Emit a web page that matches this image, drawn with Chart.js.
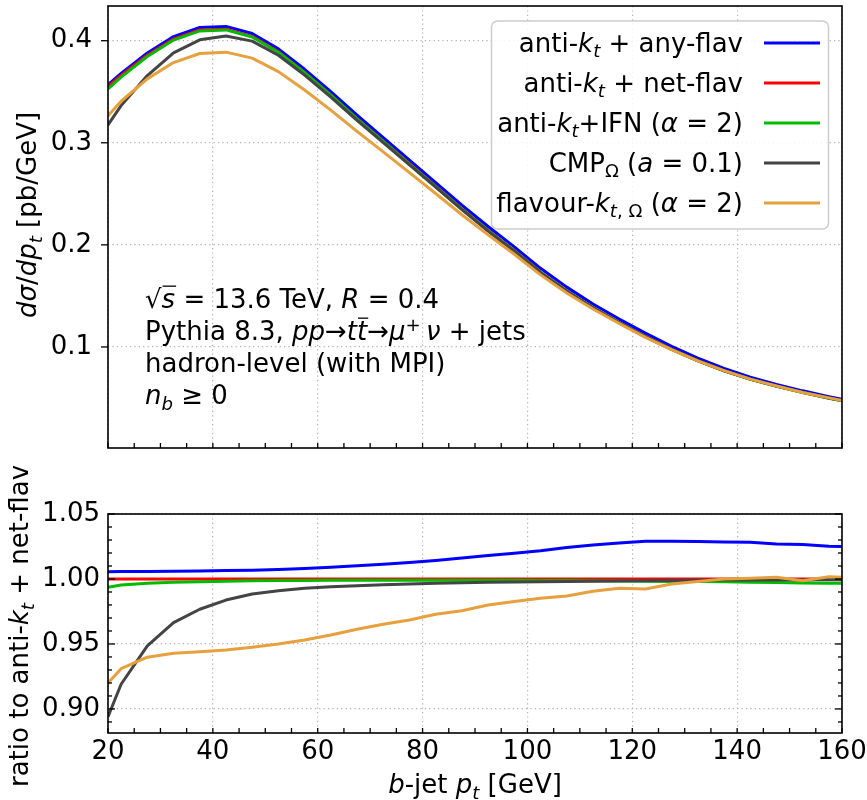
<!DOCTYPE html>
<html>
<head>
<meta charset="utf-8">
<script src="https://cdn.jsdelivr.net/npm/chart.js@4.4.1/dist/chart.umd.min.js"></script>
<style>
  html, body { margin: 0; padding: 0; background: #fff; }
  #wrap { position: relative; width: 867px; height: 800px; }
  .box { position: absolute; left: 0; width: 867px; }
  #topBox { top: 0; height: 460px; }
  #botBox { top: 460px; height: 340px; }
</style>
</head>
<body>
<div id="wrap">
  <div class="box" id="topBox"><canvas id="mainChart"></canvas></div>
  <div class="box" id="botBox"><canvas id="ratioChart"></canvas></div>
</div>
<script>
// b-jet pt bin centres (plus the two panel edges)
const ptBins = [20, 22.5, 27.5, 32.5, 37.5, 42.5, 47.5, 52.5, 57.5, 62.5,
  67.5, 72.5, 77.5, 82.5, 87.5, 92.5, 97.5, 102.5, 107.5, 112.5,
  117.5, 122.5, 127.5, 132.5, 137.5, 142.5, 147.5, 152.5, 157.5, 160];

const xTicks = [20, 40, 60, 80, 100, 120, 140, 160];
const mainYTicks = [0.1, 0.2, 0.3, 0.4];
const ratioYTicks = [0.90, 0.95, 1.00, 1.05];

const seriesNames = ['anti-kt + any-flav', 'anti-kt + net-flav', 'anti-kt+IFN (α = 2)',
  'CMPΩ (a = 0.1)', 'flavour-kt,Ω (α = 2)'];
const seriesColors = ['#0000ff', '#ff0000', '#00bb00', '#444444', '#e6a03e'];

// dsigma/dpt [pb/GeV]
const xsecAnyFlav = [0.357, 0.368, 0.388, 0.404, 0.413, 0.414, 0.407, 0.392, 0.372, 0.350,
  0.327, 0.305, 0.283, 0.261, 0.239, 0.218, 0.198, 0.177, 0.1586, 0.1421,
  0.1273, 0.1135, 0.1006, 0.0891, 0.0790, 0.0704, 0.0633, 0.0570, 0.0513, 0.0487];
const xsecNetFlav = [0.355, 0.366, 0.3858, 0.4016, 0.4105, 0.4113, 0.4042, 0.3892, 0.369, 0.3469,
  0.3237, 0.3016, 0.2795, 0.2573, 0.2352, 0.2141, 0.1942, 0.1732, 0.1548, 0.1385,
  0.1239, 0.1103, 0.0978, 0.0866, 0.0768, 0.0685, 0.0616, 0.0555, 0.0500, 0.0475];
const xsecIfn = [0.3527, 0.3643, 0.3845, 0.4006, 0.4096, 0.4106, 0.4036, 0.3887, 0.3686, 0.3466,
  0.3234, 0.3013, 0.2792, 0.2570, 0.2350, 0.2139, 0.1940, 0.1730, 0.1546, 0.1383,
  0.1237, 0.1101, 0.0976, 0.0864, 0.0766, 0.0683, 0.0614, 0.0553, 0.0498, 0.0473];
const xsecCmp = [0.3174, 0.3364, 0.3659, 0.3881, 0.4009, 0.4046, 0.3996, 0.3857, 0.3663, 0.3448,
  0.3220, 0.3002, 0.2784, 0.2565, 0.2345, 0.2135, 0.1938, 0.1728, 0.1545, 0.1383,
  0.1237, 0.1101, 0.0977, 0.0865, 0.0767, 0.0685, 0.0616, 0.0555, 0.0500, 0.0475];
const xsecFlavKt = [0.3266, 0.3407, 0.3626, 0.3786, 0.3875, 0.3888, 0.3829, 0.3697, 0.3517, 0.3320,
  0.3112, 0.2911, 0.2707, 0.2503, 0.2295, 0.2098, 0.1908, 0.1706, 0.1528, 0.1372,
  0.1230, 0.1094, 0.0974, 0.0864, 0.0768, 0.0685, 0.0617, 0.0554, 0.0501, 0.0476];

// ratio to anti-kt + net-flav
const ratioAnyFlav = [1.0056, 1.0057, 1.0058, 1.0060, 1.0062, 1.0065, 1.0068, 1.0073, 1.0081, 1.0090,
  1.0101, 1.0113, 1.0127, 1.0143, 1.0161, 1.0180, 1.0198, 1.0218, 1.0243, 1.0262,
  1.0277, 1.0290, 1.0290, 1.0288, 1.0285, 1.0282, 1.0270, 1.0265, 1.0252, 1.0250];
const ratioNetFlav = [1, 1, 1, 1, 1, 1, 1, 1, 1, 1,
  1, 1, 1, 1, 1, 1, 1, 1, 1, 1,
  1, 1, 1, 1, 1, 1, 1, 1, 1, 1];
const ratioIfn = [0.9936, 0.9954, 0.9967, 0.9974, 0.9979, 0.9983, 0.9986, 0.9988, 0.9989, 0.9990,
  0.9990, 0.9990, 0.9990, 0.9990, 0.9990, 0.9990, 0.9990, 0.9989, 0.9988, 0.9987,
  0.9985, 0.9983, 0.9981, 0.9980, 0.9978, 0.9975, 0.9972, 0.9970, 0.9968, 0.9967];
const ratioCmp = [0.894, 0.919, 0.9485, 0.9664, 0.9767, 0.9838, 0.9885, 0.9910, 0.9928, 0.9940,
  0.9948, 0.9955, 0.9962, 0.9967, 0.9971, 0.9974, 0.9977, 0.9979, 0.9981, 0.9983,
  0.9984, 0.9986, 0.9988, 0.9990, 0.9992, 0.9993, 0.9995, 0.9992, 0.9996, 0.9995];
const ratioFlavKt = [0.920, 0.931, 0.9398, 0.9428, 0.9441, 0.9454, 0.9474, 0.9500, 0.9531, 0.9569,
  0.9613, 0.9651, 0.9685, 0.9728, 0.9756, 0.9800, 0.9826, 0.9851, 0.9869, 0.9905,
  0.9928, 0.9923, 0.9962, 0.9980, 1.0000, 1.0005, 1.0013, 0.9987, 1.0018, 1.0013];

const FONT = 'DejaVu Sans';
const FS = 26;

// rich text pieces: i = italic, s = subscript, p = superscript, b = overline
const S = (t, f = '') => ({ t, i: f.includes('i'), sub: f.includes('s'), sup: f.includes('p'), bar: f.includes('b') });

const legendText = [
  [S('anti-'), S('k', 'i'), S('t', 'is'), S(' + any-flav')],
  [S('anti-'), S('k', 'i'), S('t', 'is'), S(' + net-flav')],
  [S('anti-'), S('k', 'i'), S('t', 'is'), S('+IFN ('), S('α', 'i'), S(' = 2)')],
  [S('CMP'), S('Ω', 's'), S(' ('), S('a', 'i'), S(' = 0.1)')],
  [S('flavour-'), S('k', 'i'), S('t', 'is'), S(', Ω', 's'), S(' ('), S('α', 'i'), S(' = 2)')]
];
const infoLines = [
  [S('√'), S('s', 'ib'), S(' = 13.6 TeV, '), S('R', 'i'), S(' = 0.4')],
  [S('Pythia 8.3, '), S('pp', 'i'), S('→'), S('t', 'i'), S('t', 'ib'), S('→'), S('μ', 'i'), S('+', 'p'), S('\u2009'), S('ν', 'i'), S(' + jets')],
  [S('hadron-level (with MPI)')],
  [S('n', 'i'), S('b', 'is'), S(' ≥ 0')]
];
const mainYTitle = [S('d', 'i'), S('σ', 'i'), S('/'), S('d', 'i'), S('p', 'i'), S('t', 'is'), S(' [pb/GeV]')];
const ratioYTitle = [S('ratio to anti-'), S('k', 'i'), S('t', 'is'), S(' + net-flav')];
const xTitle = [S('b', 'i'), S('-jet '), S('p', 'i'), S('t', 'is'), S(' [GeV]')];

function segFont(s, size) {
  const sz = (s.sub || s.sup) ? size * 0.7 : size;
  return (s.i ? 'italic ' : '') + sz + 'px "' + FONT + '"';
}
function richWidth(ctx, segs, size) {
  let w = 0;
  segs.forEach(s => { ctx.font = segFont(s, size); w += ctx.measureText(s.t).width; });
  return w;
}
function drawRich(ctx, segs, x, y, size, align) {
  const w0 = richWidth(ctx, segs, size);
  let cx = align === 'right' ? x - w0 : align === 'center' ? x - w0 / 2 : x;
  ctx.textAlign = 'left';
  ctx.textBaseline = 'alphabetic';
  ctx.fillStyle = '#000';
  segs.forEach(s => {
    ctx.font = segFont(s, size);
    const dy = s.sub ? size * 0.22 : s.sup ? -size * 0.36 : 0;
    ctx.fillText(s.t, cx, y + dy);
    const w = ctx.measureText(s.t).width;
    if (s.bar) {
      ctx.strokeStyle = '#000';
      ctx.lineWidth = 1.3;
      ctx.beginPath();
      ctx.moveTo(cx + 1, y - size * 0.84);
      ctx.lineTo(cx + w + 1, y - size * 0.84);
      ctx.stroke();
    }
    cx += w;
  });
}
function drawRotated(ctx, segs, x, y, size) {
  ctx.save();
  ctx.translate(x, y);
  ctx.rotate(-Math.PI / 2);
  drawRich(ctx, segs, 0, 0, size, 'center');
  ctx.restore();
}

// frame + matplotlib style ticks
function drawFrame(chart, tickSpecs) {
  const { ctx, chartArea: a, scales } = chart;
  ctx.save();
  ctx.strokeStyle = '#000';
  ctx.lineWidth = 1.3;
  tickSpecs.forEach(sp => {
    const sc = scales[sp.axis];
    sp.values.forEach(v => {
      const p = sc.getPixelForValue(v);
      ctx.beginPath();
      if (sp.side === 'left') { ctx.moveTo(a.left, p); ctx.lineTo(a.left + sp.dir * sp.len, p); }
      if (sp.side === 'right') { ctx.moveTo(a.right, p); ctx.lineTo(a.right - sp.dir * sp.len, p); }
      if (sp.side === 'bottom') { ctx.moveTo(p, a.bottom); ctx.lineTo(p, a.bottom - sp.dir * sp.len); }
      ctx.stroke();
    });
  });
  ctx.lineWidth = 1.6;
  ctx.strokeRect(a.left, a.top, a.right - a.left, a.bottom - a.top);
  ctx.restore();
}

const xMinor = [];
for (let v = 20; v <= 160; v += 5) xMinor.push(v);
const ratioMinor = [];
for (let k = 89; k <= 105; k++) ratioMinor.push(k / 100);

function makeDatasets(values) {
  return seriesNames.map((name, i) => ({
    label: name,
    data: ptBins.map((x, k) => ({ x, y: values[i][k] })),
    borderColor: seriesColors[i],
    backgroundColor: seriesColors[i],
    borderWidth: 3,
    pointRadius: 0,
    tension: 0,
    fill: false,
    borderJoinStyle: 'round',
    order: seriesNames.length - i
  }));
}

function xScale(showLabels, height) {
  return {
    type: 'linear', min: 20, max: 160,
    afterBuildTicks: s => { s.ticks = xTicks.map(v => ({ value: v })); },
    afterFit: s => { s.height = height; s.paddingLeft = 0; s.paddingRight = 0; },
    grid: { color: '#b0b0b0', lineWidth: 1.2, drawTicks: false },
    border: { display: false, dash: [1.2, 3.2] },
    ticks: { display: showLabels, padding: 4, color: '#000', maxRotation: 0, autoSkip: false,
      font: { family: FONT, size: FS }, callback: v => String(v) }
  };
}

function yScale(min, max, tickVals, digits, pad) {
  return {
    type: 'linear', min, max,
    afterBuildTicks: s => { s.ticks = tickVals.map(v => ({ value: v })); },
    afterFit: s => { s.width = 108; s.paddingTop = 0; s.paddingBottom = 0; },
    grid: { color: '#b0b0b0', lineWidth: 1.2, drawTicks: false },
    border: { display: false, dash: [1.2, 3.2] },
    ticks: { padding: pad, color: '#000', font: { family: FONT, size: FS },
      callback: v => Number(v).toFixed(digits) }
  };
}

Chart.defaults.animation = false;

new Chart(document.getElementById('mainChart'), {
  type: 'line',
  data: { datasets: makeDatasets([xsecAnyFlav, xsecNetFlav, xsecIfn, xsecCmp, xsecFlavKt]) },
  options: {
    responsive: true,
    maintainAspectRatio: false,
    layout: { padding: { left: 0, right: 25, top: 6, bottom: 0 } },
    scales: { x: xScale(false, 12), y: yScale(0.001, 0.434, mainYTicks, 1, 16) },
    plugins: { legend: { display: false }, tooltip: { enabled: false } }
  },
  plugins: [{
    id: 'mainDecor',
    afterDraw(chart) {
      const ctx = chart.ctx;
      drawFrame(chart, [
        { axis: 'y', side: 'left', values: mainYTicks, len: 7, dir: -1 },
        { axis: 'x', side: 'bottom', values: xMinor, len: 5, dir: 1 }
      ]);
      drawRotated(ctx, mainYTitle, 36, 215, FS);
      infoLines.forEach((line, k) => drawRich(ctx, line, 145, 308 + 32 * k, FS, 'left'));
      // legend
      ctx.save();
      ctx.fillStyle = 'rgba(255,255,255,0.85)';
      ctx.strokeStyle = '#cccccc';
      ctx.lineWidth = 1.5;
      ctx.beginPath();
      ctx.roundRect(491.5, 21, 337, 208, 6);
      ctx.fill();
      ctx.stroke();
      chart.data.datasets.forEach((ds, k) => {
        const yb = 51.5 + 40 * k;
        drawRich(ctx, legendText[k], 743, yb, FS, 'right');
        ctx.strokeStyle = ds.borderColor;
        ctx.lineWidth = 3;
        ctx.beginPath();
        ctx.moveTo(764, yb - 8.5);
        ctx.lineTo(820, yb - 8.5);
        ctx.stroke();
      });
      ctx.restore();
    }
  }]
});

new Chart(document.getElementById('ratioChart'), {
  type: 'line',
  data: { datasets: makeDatasets([ratioAnyFlav, ratioNetFlav, ratioIfn, ratioCmp, ratioFlavKt]) },
  options: {
    responsive: true,
    maintainAspectRatio: false,
    layout: { padding: { left: 0, right: 25, top: 54, bottom: 0 } },
    scales: { x: xScale(true, 67), y: yScale(0.8815, 1.05, ratioYTicks, 2, 8) },
    plugins: { legend: { display: false }, tooltip: { enabled: false } }
  },
  plugins: [{
    id: 'ratioDecor',
    afterDraw(chart) {
      const ctx = chart.ctx;
      const major = ratioMinor.filter(v => Math.round(v * 100) % 5 === 0);
      const minor = ratioMinor.filter(v => Math.round(v * 100) % 5 !== 0);
      drawFrame(chart, [
        { axis: 'y', side: 'left', values: major, len: 7, dir: 1 },
        { axis: 'y', side: 'left', values: minor, len: 4, dir: 1 },
        { axis: 'y', side: 'right', values: major, len: 7, dir: 1 },
        { axis: 'y', side: 'right', values: minor, len: 4, dir: 1 },
        { axis: 'x', side: 'bottom', values: xMinor, len: 5, dir: 1 }
      ]);
      drawRotated(ctx, ratioYTitle, 28, 166, FS);
      drawRich(ctx, xTitle, 475, 333, FS, 'center');
    }
  }]
});
</script>
</body>
</html>
